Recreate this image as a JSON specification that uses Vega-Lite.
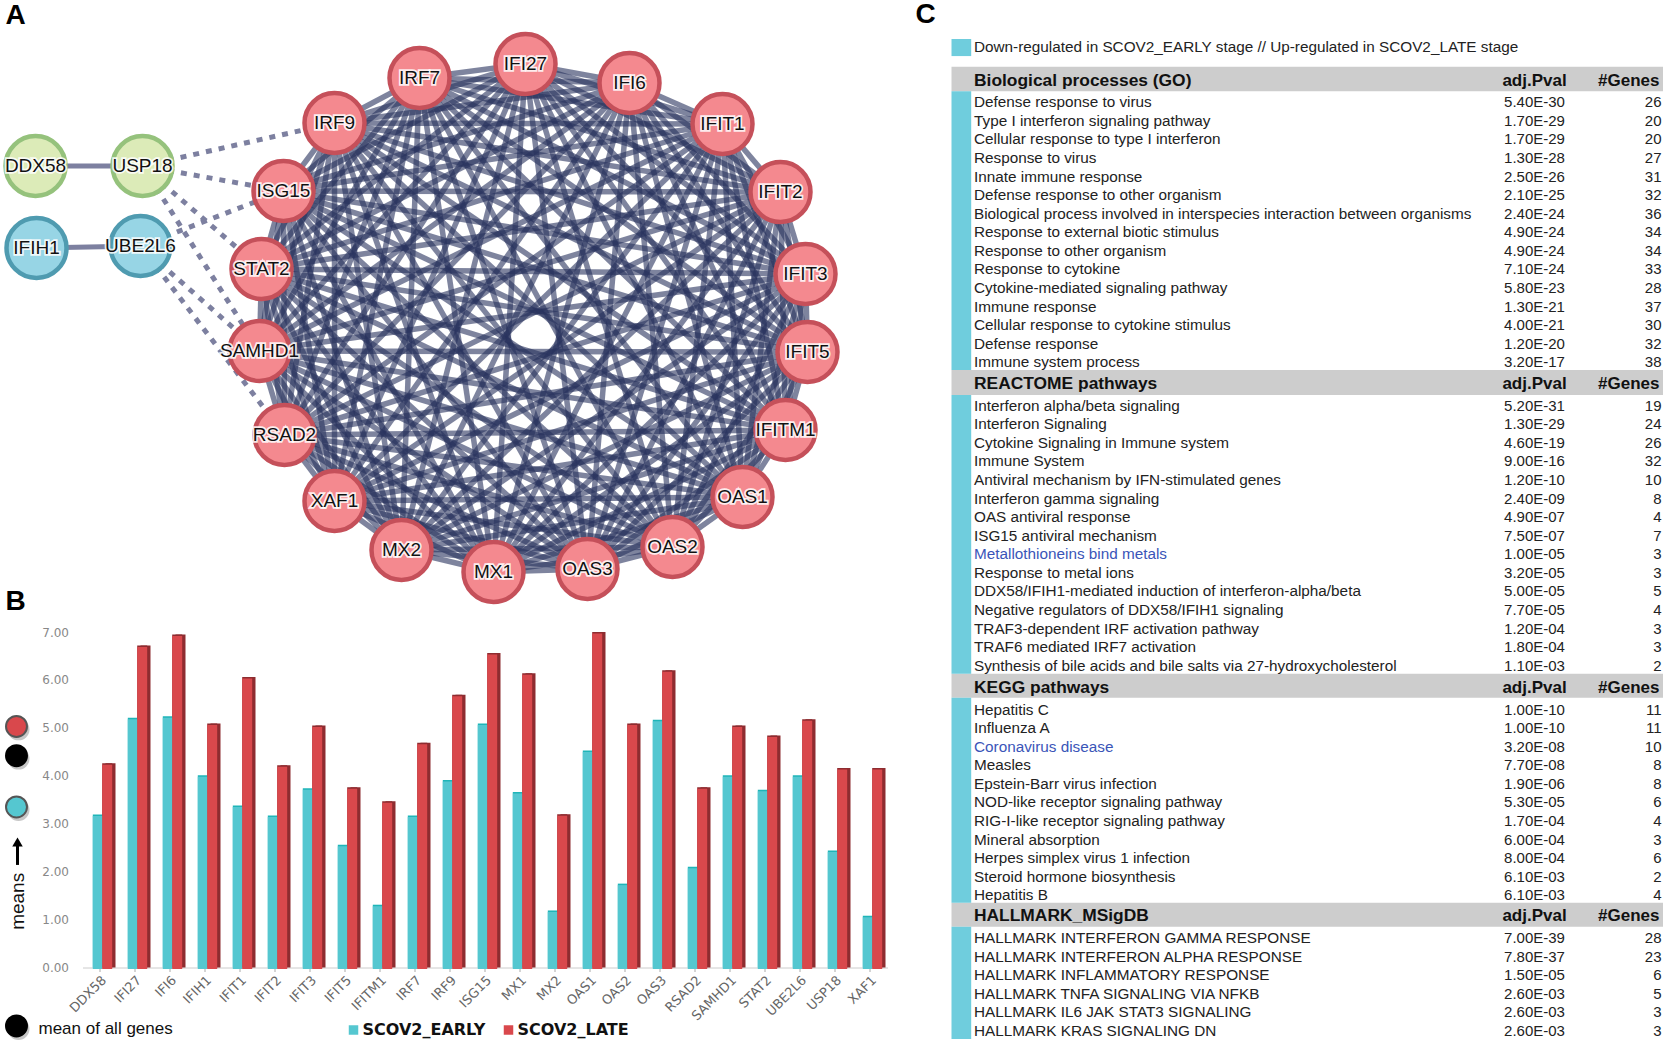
{"$schema":"https://vega.github.io/schema/vega-lite/v6.json","padding":{"left":-3.5,"top":0,"right":0,"bottom":0},"autosize":{"type":"pad"},"background":"white","spacing":0,"resolve":{"scale":{"color":"independent","fill":"independent","stroke":"independent"}},"config":{"view":{"stroke":null},"text":{"font":"Liberation Sans"}},
"datasets":{"nodes":[{"n":"IFI27","x":525,"y":64,"g":"r"},{"n":"IFI6","x":629,"y":83,"g":"r"},{"n":"IFIT1","x":722,"y":124,"g":"r"},{"n":"IFIT2","x":780,"y":192,"g":"r"},{"n":"IFIT3","x":805,"y":274,"g":"r"},{"n":"IFIT5","x":807,"y":352,"g":"r"},{"n":"IFITM1","x":785,"y":430,"g":"r"},{"n":"OAS1","x":742,"y":497,"g":"r"},{"n":"OAS2","x":672,"y":547,"g":"r"},{"n":"OAS3","x":587,"y":569,"g":"r"},{"n":"MX1","x":493,"y":572,"g":"r"},{"n":"MX2","x":401,"y":550,"g":"r"},{"n":"XAF1","x":334,"y":501,"g":"r"},{"n":"RSAD2","x":284,"y":435,"g":"r"},{"n":"SAMHD1","x":259,"y":351,"g":"r"},{"n":"STAT2","x":261,"y":269,"g":"r"},{"n":"ISG15","x":283,"y":191,"g":"r"},{"n":"IRF9","x":334,"y":123,"g":"r"},{"n":"IRF7","x":419,"y":78,"g":"r"},{"n":"DDX58","x":35,"y":166,"g":"g"},{"n":"USP18","x":142,"y":166,"g":"g"},{"n":"IFIH1","x":36,"y":248,"g":"b"},{"n":"UBE2L6","x":140,"y":246,"g":"b"}],
"clique":[{"s":"IFI27","t":["IFI6","IFIT1","IFIT2","IFIT3","IFIT5","IFITM1","OAS1","OAS2","OAS3","MX1","MX2","XAF1","RSAD2","SAMHD1","STAT2","ISG15","IRF9","IRF7"]},{"s":"IFI6","t":["IFIT1","IFIT2","IFIT3","IFIT5","IFITM1","OAS1","OAS2","OAS3","MX1","MX2","XAF1","RSAD2","SAMHD1","STAT2","ISG15","IRF9","IRF7"]},{"s":"IFIT1","t":["IFIT2","IFIT3","IFIT5","IFITM1","OAS1","OAS2","OAS3","MX1","MX2","XAF1","RSAD2","SAMHD1","STAT2","ISG15","IRF9","IRF7"]},{"s":"IFIT2","t":["IFIT3","IFIT5","IFITM1","OAS1","OAS2","OAS3","MX1","MX2","XAF1","RSAD2","SAMHD1","STAT2","ISG15","IRF9","IRF7"]},{"s":"IFIT3","t":["IFIT5","IFITM1","OAS1","OAS2","OAS3","MX1","MX2","XAF1","RSAD2","SAMHD1","STAT2","ISG15","IRF9","IRF7"]},{"s":"IFIT5","t":["IFITM1","OAS1","OAS2","OAS3","MX1","MX2","XAF1","RSAD2","SAMHD1","STAT2","ISG15","IRF9","IRF7"]},{"s":"IFITM1","t":["OAS1","OAS2","OAS3","MX1","MX2","XAF1","RSAD2","SAMHD1","STAT2","ISG15","IRF9","IRF7"]},{"s":"OAS1","t":["OAS2","OAS3","MX1","MX2","XAF1","RSAD2","SAMHD1","STAT2","ISG15","IRF9","IRF7"]},{"s":"OAS2","t":["OAS3","MX1","MX2","XAF1","RSAD2","SAMHD1","STAT2","ISG15","IRF9","IRF7"]},{"s":"OAS3","t":["MX1","MX2","XAF1","RSAD2","SAMHD1","STAT2","ISG15","IRF9","IRF7"]},{"s":"MX1","t":["MX2","XAF1","RSAD2","SAMHD1","STAT2","ISG15","IRF9","IRF7"]},{"s":"MX2","t":["XAF1","RSAD2","SAMHD1","STAT2","ISG15","IRF9","IRF7"]},{"s":"XAF1","t":["RSAD2","SAMHD1","STAT2","ISG15","IRF9","IRF7"]},{"s":"RSAD2","t":["SAMHD1","STAT2","ISG15","IRF9","IRF7"]},{"s":"SAMHD1","t":["STAT2","ISG15","IRF9","IRF7"]},{"s":"STAT2","t":["ISG15","IRF9","IRF7"]},{"s":"ISG15","t":["IRF9","IRF7"]},{"s":"IRF9","t":["IRF7"]}],
"bars":[{"g":"DDX58","s":"SCOV2_EARLY","v":3.19},{"g":"DDX58","s":"SCOV2_LATE","v":4.26},{"g":"IFI27","s":"SCOV2_EARLY","v":5.21},{"g":"IFI27","s":"SCOV2_LATE","v":6.72},{"g":"IFI6","s":"SCOV2_EARLY","v":5.24},{"g":"IFI6","s":"SCOV2_LATE","v":6.95},{"g":"IFIH1","s":"SCOV2_EARLY","v":4.01},{"g":"IFIH1","s":"SCOV2_LATE","v":5.09},{"g":"IFIT1","s":"SCOV2_EARLY","v":3.38},{"g":"IFIT1","s":"SCOV2_LATE","v":6.06},{"g":"IFIT2","s":"SCOV2_EARLY","v":3.17},{"g":"IFIT2","s":"SCOV2_LATE","v":4.22},{"g":"IFIT3","s":"SCOV2_EARLY","v":3.74},{"g":"IFIT3","s":"SCOV2_LATE","v":5.05},{"g":"IFIT5","s":"SCOV2_EARLY","v":2.56},{"g":"IFIT5","s":"SCOV2_LATE","v":3.76},{"g":"IFITM1","s":"SCOV2_EARLY","v":1.31},{"g":"IFITM1","s":"SCOV2_LATE","v":3.47},{"g":"IRF7","s":"SCOV2_EARLY","v":3.17},{"g":"IRF7","s":"SCOV2_LATE","v":4.69},{"g":"IRF9","s":"SCOV2_EARLY","v":3.91},{"g":"IRF9","s":"SCOV2_LATE","v":5.69},{"g":"ISG15","s":"SCOV2_EARLY","v":5.09},{"g":"ISG15","s":"SCOV2_LATE","v":6.56},{"g":"MX1","s":"SCOV2_EARLY","v":3.66},{"g":"MX1","s":"SCOV2_LATE","v":6.14},{"g":"MX2","s":"SCOV2_EARLY","v":1.19},{"g":"MX2","s":"SCOV2_LATE","v":3.2},{"g":"OAS1","s":"SCOV2_EARLY","v":4.53},{"g":"OAS1","s":"SCOV2_LATE","v":7.0},{"g":"OAS2","s":"SCOV2_EARLY","v":1.75},{"g":"OAS2","s":"SCOV2_LATE","v":5.09},{"g":"OAS3","s":"SCOV2_EARLY","v":5.17},{"g":"OAS3","s":"SCOV2_LATE","v":6.2},{"g":"RSAD2","s":"SCOV2_EARLY","v":2.1},{"g":"RSAD2","s":"SCOV2_LATE","v":3.76},{"g":"SAMHD1","s":"SCOV2_EARLY","v":4.01},{"g":"SAMHD1","s":"SCOV2_LATE","v":5.05},{"g":"STAT2","s":"SCOV2_EARLY","v":3.71},{"g":"STAT2","s":"SCOV2_LATE","v":4.84},{"g":"UBE2L6","s":"SCOV2_EARLY","v":4.01},{"g":"UBE2L6","s":"SCOV2_LATE","v":5.18},{"g":"USP18","s":"SCOV2_EARLY","v":2.44},{"g":"USP18","s":"SCOV2_LATE","v":4.16},{"g":"XAF1","s":"SCOV2_EARLY","v":1.08},{"g":"XAF1","s":"SCOV2_LATE","v":4.16}],
"table":[{"r":-1.98,"l":1,"term":"Down-regulated in SCOV2_EARLY stage // Up-regulated in SCOV2_LATE stage"},
{"r":-0.25,"h":1,"term":"Biological processes (GO)","p":"adj.Pval","n":"#Genes"},
{"r":1,"term":"Defense response to virus","p":"5.40E-30","n":"26"},{"r":2,"term":"Type I interferon signaling pathway","p":"1.70E-29","n":"20"},{"r":3,"term":"Cellular response to type I interferon","p":"1.70E-29","n":"20"},{"r":4,"term":"Response to virus","p":"1.30E-28","n":"27"},{"r":5,"term":"Innate immune response","p":"2.50E-26","n":"31"},{"r":6,"term":"Defense response to other organism","p":"2.10E-25","n":"32"},{"r":7,"term":"Biological process involved in interspecies interaction between organisms","p":"2.40E-24","n":"36"},{"r":8,"term":"Response to external biotic stimulus","p":"4.90E-24","n":"34"},{"r":9,"term":"Response to other organism","p":"4.90E-24","n":"34"},{"r":10,"term":"Response to cytokine","p":"7.10E-24","n":"33"},{"r":11,"term":"Cytokine-mediated signaling pathway","p":"5.80E-23","n":"28"},{"r":12,"term":"Immune response","p":"1.30E-21","n":"37"},{"r":13,"term":"Cellular response to cytokine stimulus","p":"4.00E-21","n":"30"},{"r":14,"term":"Defense response","p":"1.20E-20","n":"32"},{"r":15,"term":"Immune system process","p":"3.20E-17","n":"38"},
{"r":16.09,"h":1,"term":"REACTOME pathways","p":"adj.Pval","n":"#Genes"},
{"r":17.34,"term":"Interferon alpha/beta signaling","p":"5.20E-31","n":"19"},{"r":18.34,"term":"Interferon Signaling","p":"1.30E-29","n":"24"},{"r":19.34,"term":"Cytokine Signaling in Immune system","p":"4.60E-19","n":"26"},{"r":20.34,"term":"Immune System","p":"9.00E-16","n":"32"},{"r":21.34,"term":"Antiviral mechanism by IFN-stimulated genes","p":"1.20E-10","n":"10"},{"r":22.34,"term":"Interferon gamma signaling","p":"2.40E-09","n":"8"},{"r":23.34,"term":"OAS antiviral response","p":"4.90E-07","n":"4"},{"r":24.34,"term":"ISG15 antiviral mechanism","p":"7.50E-07","n":"7"},{"r":25.34,"b":1,"term":"Metallothioneins bind metals","p":"1.00E-05","n":"3"},{"r":26.34,"term":"Response to metal ions","p":"3.20E-05","n":"3"},{"r":27.34,"term":"DDX58/IFIH1-mediated induction of interferon-alpha/beta","p":"5.00E-05","n":"5"},{"r":28.34,"term":"Negative regulators of DDX58/IFIH1 signaling","p":"7.70E-05","n":"4"},{"r":29.34,"term":"TRAF3-dependent IRF activation pathway","p":"1.20E-04","n":"3"},{"r":30.34,"term":"TRAF6 mediated IRF7 activation","p":"1.80E-04","n":"3"},{"r":31.34,"term":"Synthesis of bile acids and bile salts via 27-hydroxycholesterol","p":"1.10E-03","n":"2"},
{"r":32.45,"h":1,"term":"KEGG pathways","p":"adj.Pval","n":"#Genes"},
{"r":33.7,"term":"Hepatitis C","p":"1.00E-10","n":"11"},{"r":34.7,"term":"Influenza A","p":"1.00E-10","n":"11"},{"r":35.7,"b":1,"term":"Coronavirus disease","p":"3.20E-08","n":"10"},{"r":36.7,"term":"Measles","p":"7.70E-08","n":"8"},{"r":37.7,"term":"Epstein-Barr virus infection","p":"1.90E-06","n":"8"},{"r":38.7,"term":"NOD-like receptor signaling pathway","p":"5.30E-05","n":"6"},{"r":39.7,"term":"RIG-I-like receptor signaling pathway","p":"1.70E-04","n":"4"},{"r":40.7,"term":"Mineral absorption","p":"6.00E-04","n":"3"},{"r":41.7,"term":"Herpes simplex virus 1 infection","p":"8.00E-04","n":"6"},{"r":42.7,"term":"Steroid hormone biosynthesis","p":"6.10E-03","n":"2"},{"r":43.7,"term":"Hepatitis B","p":"6.10E-03","n":"4"},
{"r":44.76,"h":1,"term":"HALLMARK_MSigDB","p":"adj.Pval","n":"#Genes"},
{"r":46,"term":"HALLMARK INTERFERON GAMMA RESPONSE","p":"7.00E-39","n":"28"},{"r":47,"term":"HALLMARK INTERFERON ALPHA RESPONSE","p":"7.80E-37","n":"23"},{"r":48,"term":"HALLMARK INFLAMMATORY RESPONSE","p":"1.50E-05","n":"6"},{"r":49,"term":"HALLMARK TNFA SIGNALING VIA NFKB","p":"2.60E-03","n":"5"},{"r":50,"term":"HALLMARK IL6 JAK STAT3 SIGNALING","p":"2.60E-03","n":"3"},{"r":51,"term":"HALLMARK KRAS SIGNALING DN","p":"2.60E-03","n":"3"}]},
"hconcat":[{"vconcat":[
{"width":935,"height":632,
"encoding":{"x":{"field":"x","type":"quantitative","scale":{"domain":[0,935],"nice":false,"zero":false},"axis":null},"y":{"field":"y","type":"quantitative","scale":{"domain":[0,632],"nice":false,"zero":false,"reverse":true},"axis":null}},
"layer":[
{"data":{"values":[{"s":"USP18","t":"IRF9"},{"s":"USP18","t":"ISG15"},{"s":"USP18","t":"STAT2"},{"s":"USP18","t":"SAMHD1"},{"s":"UBE2L6","t":"ISG15"},{"s":"UBE2L6","t":"SAMHD1"},{"s":"UBE2L6","t":"RSAD2"}]},
"transform":[{"lookup":"s","from":{"data":{"name":"nodes"},"key":"n","fields":["x","y"]},"as":["x","y"]},{"lookup":"t","from":{"data":{"name":"nodes"},"key":"n","fields":["x","y"]},"as":["x2","y2"]}],
"mark":{"type":"rule","color":"#7d80a0","strokeWidth":5,"strokeDash":[6,7]},"encoding":{"x2":{"field":"x2"},"y2":{"field":"y2"}}},
{"data":{"values":[{"s":"DDX58","t":"USP18"},{"s":"IFIH1","t":"UBE2L6"}]},
"transform":[{"lookup":"s","from":{"data":{"name":"nodes"},"key":"n","fields":["x","y"]},"as":["x","y"]},{"lookup":"t","from":{"data":{"name":"nodes"},"key":"n","fields":["x","y"]},"as":["x2","y2"]}],
"mark":{"type":"rule","color":"#7d80a0","strokeWidth":5},"encoding":{"x2":{"field":"x2"},"y2":{"field":"y2"}}},
{"data":{"name":"clique"},"transform":[{"flatten":["t"]},{"lookup":"s","from":{"data":{"name":"nodes"},"key":"n","fields":["x","y"]},"as":["x","y"]},{"lookup":"t","from":{"data":{"name":"nodes"},"key":"n","fields":["x","y"]},"as":["x2","y2"]}],
"mark":{"type":"rule","color":"#28325e","opacity":0.6,"strokeWidth":5.5},"encoding":{"x2":{"field":"x2"},"y2":{"field":"y2"}}},
{"data":{"name":"nodes"},"mark":{"type":"circle","size":3600,"strokeWidth":4.5,"opacity":1},"encoding":{"fill":{"field":"g","scale":{"domain":["r","g","b"],"range":["#f4898f","#dcebb8","#97d5e5"]},"legend":null},"stroke":{"field":"g","scale":{"domain":["r","g","b"],"range":["#c5505a","#95c27c","#4f9bb0"]},"legend":null}}},
{"data":{"name":"nodes"},"mark":{"type":"text","fontSize":19,"stroke":"white","strokeWidth":3.5,"strokeOpacity":0.85,"fill":"white"},"encoding":{"text":{"field":"n"}}},
{"data":{"name":"nodes"},"mark":{"type":"text","fontSize":19,"fill":"#111"},"encoding":{"text":{"field":"n"}}},
{"data":{"values":[{"x":15,"y":16,"t":"A"},{"x":15,"y":602,"t":"B"},{"x":925,"y":15,"t":"C"}]},"mark":{"type":"text","fontSize":28,"fontWeight":"bold","fill":"#000"},"encoding":{"text":{"field":"t"}}}
]},
{"hconcat":[
{"width":82,"height":335.5,
"encoding":{"x":{"field":"x","type":"quantitative","scale":{"domain":[0,82],"nice":false,"zero":false},"axis":null},"y":{"field":"v","type":"quantitative","scale":{"domain":[0,7],"nice":false},"axis":null}},
"data":{"values":[{"x":16,"v":5.03,"c":"late"},{"x":16,"v":4.42,"c":"all"},{"x":16,"v":3.35,"c":"early"},{"x":16,"v":-1.22,"c":"all"}]},
"layer":[
{"mark":{"type":"circle","size":480,"color":"#444","opacity":0.3,"xOffset":2,"yOffset":3}},
{"mark":{"type":"circle","size":440,"opacity":1,"strokeWidth":2},"encoding":{"fill":{"field":"c","scale":{"domain":["late","all","early"],"range":["#d9484c","#000000","#55c7d0"]},"legend":null},"stroke":{"field":"c","scale":{"domain":["late","all","early"],"range":["#555555","#000000","#555555"]},"legend":null}}},
{"data":{"values":[{"x":17,"v":2.14,"v2":2.55}]},"mark":{"type":"rule","color":"#000","strokeWidth":3},"encoding":{"y2":{"field":"v2"}}},
{"data":{"values":[{"x":17,"v":2.62}]},"mark":{"type":"point","shape":"triangle-up","filled":true,"color":"#000","size":110,"opacity":1}},
{"data":{"values":[{"x":17,"v":1.38,"t":"means"}]},"mark":{"type":"text","angle":270,"fontSize":19,"fill":"#111"},"encoding":{"text":{"field":"t"}}},
{"data":{"values":[{"x":38,"v":-1.28,"t":"mean of all genes"}]},"mark":{"type":"text","align":"left","fontSize":17,"fill":"#111"},"encoding":{"text":{"field":"t"}}}
]},
{"width":805,"height":335.5,"data":{"name":"bars"},
"encoding":{"x":{"field":"g","type":"nominal","sort":null,"scale":{"paddingInner":0.446,"paddingOuter":0.223},"axis":{"title":null,"labelAngle":-45,"labelFont":"DejaVu Sans","labelFontSize":13,"labelColor":"#666","domainColor":"#ccc","tickColor":"#aaa","tickSize":4,"labelPadding":2}},
"y":{"field":"v","type":"quantitative","scale":{"domain":[0,7],"nice":false},"axis":{"title":null,"values":[0,1,2,3,4,5,6,7],"format":".2f","grid":false,"domain":false,"ticks":false,"labelFont":"DejaVu Sans","labelFontSize":12,"labelColor":"#888","labelPadding":14}}},
"layer":[
{"transform":[{"filter":"datum.s==='SCOV2_EARLY'"}],"mark":{"type":"bar","color":"#1fb5b8","width":9.7,"xOffset":-2.35}},
{"transform":[{"filter":"datum.s==='SCOV2_LATE'"}],"mark":{"type":"bar","color":"#8e2c30","width":10,"xOffset":10.5}},
{"transform":[{"filter":"datum.s==='SCOV2_LATE'"}],"mark":{"type":"bar","color":"#8e2c30","width":10,"xOffset":7.2}},
{"transform":[{"filter":"datum.s==='SCOV2_EARLY'"}],"mark":{"type":"bar","width":9.7,"xOffset":-2.35,"yOffset":1.5},"encoding":{"color":{"field":"s","type":"nominal","scale":{"domain":["SCOV2_EARLY","SCOV2_LATE"],"range":["#55c7d0","#d9484c"]},"legend":{"title":null,"orient":"none","legendX":263,"legendY":390,"direction":"horizontal","columns":2,"symbolType":"square","symbolSize":90,"labelFont":"DejaVu Sans","labelFontWeight":"bold","labelFontSize":16,"labelColor":"#111","columnPadding":15,"labelOffset":1}}}},
{"transform":[{"filter":"datum.s==='SCOV2_LATE'"}],"mark":{"type":"bar","width":10,"xOffset":7.2,"yOffset":1.5},"encoding":{"color":{"field":"s","type":"nominal"}}}
]}
],"spacing":0,"bounds":"flush","resolve":{"scale":{"color":"independent","fill":"independent","stroke":"independent"}}}
],"spacing":0,"bounds":"flush","resolve":{"scale":{"color":"independent","fill":"independent","stroke":"independent"}}},
{"width":728,"height":1041,
"encoding":{"y":{"field":"r","type":"quantitative","scale":{"domain":[-4.51,51.55],"nice":false,"zero":false,"reverse":true},"axis":null}},
"layer":[
{"data":{"values":[{"a":20,"b":733,"r":-0.917,"r2":0.407,"c":"h"},{"a":20,"b":733,"r":15.42,"r2":16.76,"c":"h"},{"a":20,"b":733,"r":31.77,"r2":33.06,"c":"h"},{"a":20,"b":733,"r":44.1,"r2":45.4,"c":"h"},{"a":20,"b":39.7,"r":0.407,"r2":15.42,"c":"s"},{"a":20,"b":39.7,"r":16.76,"r2":31.77,"c":"s"},{"a":20,"b":39.7,"r":33.06,"r2":44.1,"c":"s"},{"a":20,"b":39.7,"r":45.4,"r2":51.44,"c":"s"},{"a":20,"b":39.7,"r":-2.41,"r2":-1.49,"c":"s"}]},
"mark":{"type":"rect"},"encoding":{"x":{"field":"a","type":"quantitative","scale":{"domain":[5,733],"nice":false,"zero":false},"axis":null},"x2":{"field":"b"},"y2":{"field":"r2"},"color":{"field":"c","scale":{"domain":["h","s"],"range":["#cdcdcd","#6fcddd"]},"legend":null}}},
{"data":{"name":"table"},"transform":[{"filter":"!datum.h"}],"mark":{"type":"text","align":"left","fontSize":15.3},"encoding":{"x":{"datum":42.5,"type":"quantitative"},"text":{"field":"term"},"color":{"condition":{"test":"datum.b","value":"#3a55b8"},"value":"#222"}}},
{"data":{"name":"table"},"transform":[{"filter":"!datum.h && !datum.l"}],"mark":{"type":"text","align":"center","fontSize":15,"fill":"#222"},"encoding":{"x":{"datum":603,"type":"quantitative"},"text":{"field":"p"}}},
{"data":{"name":"table"},"transform":[{"filter":"!datum.h && !datum.l"}],"mark":{"type":"text","align":"right","fontSize":15,"fill":"#222"},"encoding":{"x":{"datum":730,"type":"quantitative"},"text":{"field":"n"}}},
{"data":{"name":"table"},"transform":[{"filter":"datum.h"}],"mark":{"type":"text","align":"left","fontSize":17.4,"fontWeight":"bold","fill":"#111","dy":1.5},"encoding":{"x":{"datum":42.5,"type":"quantitative"},"text":{"field":"term"}}},
{"data":{"name":"table"},"transform":[{"filter":"datum.h"}],"mark":{"type":"text","align":"center","fontSize":17,"fontWeight":"bold","fill":"#111","dy":1.5},"encoding":{"x":{"datum":603,"type":"quantitative"},"text":{"field":"p"}}},
{"data":{"name":"table"},"transform":[{"filter":"datum.h"}],"mark":{"type":"text","align":"right","fontSize":17,"fontWeight":"bold","fill":"#111","dy":1.5},"encoding":{"x":{"datum":728,"type":"quantitative"},"text":{"field":"n"}}}
]}
]}
